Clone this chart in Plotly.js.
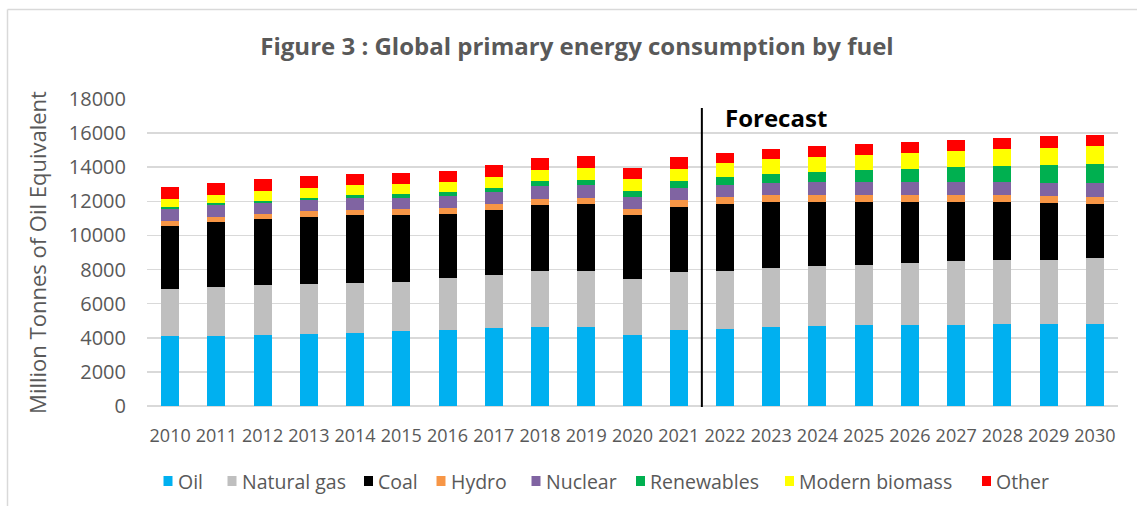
<!DOCTYPE html>
<html>
<head>
<meta charset="utf-8">
<script src="https://cdn.plot.ly/plotly-3.0.1.min.js"></script>
<style>
  html, body { margin: 0; padding: 0; background: #fff; }
  #chart { width: 1137px; height: 506px; }
</style>
</head>
<body>
<div id="chart"></div>
<script>
// ---- Data (Million Tonnes of Oil Equivalent) ----
const years = ['2010','2011','2012','2013','2014','2015','2016','2017','2018','2019','2020',
               '2021','2022','2023','2024','2025','2026','2027','2028','2029','2030'];
const oil        = [4120,4130,4180,4240,4300,4380,4435,4550,4610,4610,4180,4435,4530,4650,4710,4750,4770,4770,4810,4810,4810];
const naturalGas = [2740,2830,2895,2915,2910,2910,3050,3130,3285,3325,3285,3400,3405,3440,3500,3535,3635,3710,3730,3770,3850];
const coal       = [3675,3830,3870,3930,3970,3910,3795,3815,3910,3910,3715,3855,3910,3850,3730,3655,3535,3460,3400,3305,3165];
const hydro      = [295,310,335,330,335,330,350,370,355,370,375,370,390,410,435,410,435,435,410,410,450];
const nuclear    = [725,690,625,645,660,670,665,685,720,725,700,700,725,730,740,765,740,740,765,800,805];
const renewables = [95,115,135,155,175,210,235,255,295,330,370,415,470,525,625,705,785,880,960,1020,1090];
const biomass    = [490,445,550,550,590,590,585,645,665,665,665,700,820,860,880,900,940,980,1000,1035,1055];
const other      = [680,730,700,725,685,685,685,685,680,705,685,705,605,610,605,625,645,625,660,660,685];

const seriesNames  = ['Oil','Natural gas','Coal','Hydro','Nuclear','Renewables','Modern biomass','Other'];
const seriesValues = [oil, naturalGas, coal, hydro, nuclear, renewables, biomass, other];
const seriesColors = ['#00B0F0','#BFBFBF','#000000','#F79646','#8064A2','#00B050','#FFFF00','#FF0000'];
const forecastStart = '2022';
const titleText = 'Figure 3 : Global primary energy consumption by fuel';
const yTitleText = 'Million Tonnes of Oil Equivalent';

// ---- Layout geometry ----
const W = 1137, H = 506;
const M = { l: 147, r: 19, t: 99, b: 100 };
const PW = W - M.l - M.r, PH = H - M.t - M.b;
const px2x = px => (px - M.l) / PW;
const py2y = py => (H - M.b - py) / PH;

const FONT = '"Open Sans", "DejaVu Sans", sans-serif';
const GREY = '#595959';

const traces = seriesNames.map((name, i) => ({
  type: 'bar',
  name: name,
  x: years,
  y: seriesValues[i],
  marker: { color: seriesColors[i], line: { width: 0 } },
  showlegend: false,
  hoverinfo: 'x+y+name'
}));

// custom legend (square + text) placed like the original
const legendLeft = [163.5, 227.5, 364, 436.5, 531.5, 636, 785, 982];
const legendY = 481;
const shapes = [];
const annotations = [];
seriesNames.forEach((name, i) => {
  shapes.push({
    type: 'rect', xref: 'paper', yref: 'paper',
    x0: px2x(legendLeft[i]), x1: px2x(legendLeft[i] + 9),
    y0: py2y(legendY + 5), y1: py2y(legendY - 5),
    fillcolor: seriesColors[i], line: { width: 0 }
  });
  annotations.push({
    xref: 'paper', yref: 'paper',
    x: px2x(legendLeft[i] + 12), y: py2y(legendY),
    xanchor: 'left', yanchor: 'middle', showarrow: false,
    text: name, font: { family: FONT, size: 19.5, color: GREY }
  });
});

// forecast divider
const fIdx = years.indexOf(forecastStart) - 0.5;
shapes.push({
  type: 'line', xref: 'x', yref: 'paper',
  x0: fIdx, x1: fIdx, y0: py2y(407), y1: py2y(108),
  line: { color: '#000000', width: 2 }
});
annotations.push({
  xref: 'x', yref: 'paper', x: fIdx, y: py2y(117),
  xanchor: 'left', yanchor: 'middle', xshift: 21, showarrow: false,
  text: '<b>Forecast</b>', font: { family: FONT, size: 24, color: '#000000' }
});

// chart-area frame (top and left edges visible)
shapes.push({ type: 'line', xref: 'paper', yref: 'paper',
  x0: px2x(7.5), x1: px2x(1137), y0: py2y(9.5), y1: py2y(9.5),
  line: { color: '#D9D9D9', width: 1.5 } });
shapes.push({ type: 'line', xref: 'paper', yref: 'paper',
  x0: px2x(7.5), x1: px2x(7.5), y0: py2y(9.5), y1: py2y(506),
  line: { color: '#D9D9D9', width: 1.5 } });

const layout = {
  width: W, height: H,
  margin: M,
  paper_bgcolor: '#ffffff', plot_bgcolor: '#ffffff',
  barmode: 'stack',
  bargap: 0.61,
  showlegend: false,
  font: { family: FONT, color: GREY },
  title: {
    text: '<b>' + titleText + '</b>',
    font: { family: FONT, size: 24, color: GREY },
    xref: 'paper', x: px2x(577), xanchor: 'center',
    yref: 'container', y: 1 - 47 / H, yanchor: 'middle'
  },
  xaxis: {
    type: 'category',
    tickfont: { family: FONT, size: 18, color: GREY },
    showgrid: false, zeroline: false, showline: false,
    ticks: '', ticklabelstandoff: 17, fixedrange: true
  },
  yaxis: {
    range: [0, 18000],
    dtick: 2000,
    tick0: 0,
    tickformat: 'd',
    tickfont: { family: FONT, size: 20, color: GREY },
    showgrid: true, gridcolor: '#D9D9D9', gridwidth: 1.5,
    zeroline: true, zerolinecolor: '#D9D9D9', zerolinewidth: 1.5,
    showline: false, ticks: '',
    ticklabelstandoff: 20,
    title: { text: yTitleText, font: { family: FONT, size: 22, color: GREY }, standoff: 16 },
    fixedrange: true
  },
  shapes: shapes,
  annotations: annotations
};

Plotly.newPlot('chart', traces, layout, { displayModeBar: false, staticPlot: true });
</script>
</body>
</html>
